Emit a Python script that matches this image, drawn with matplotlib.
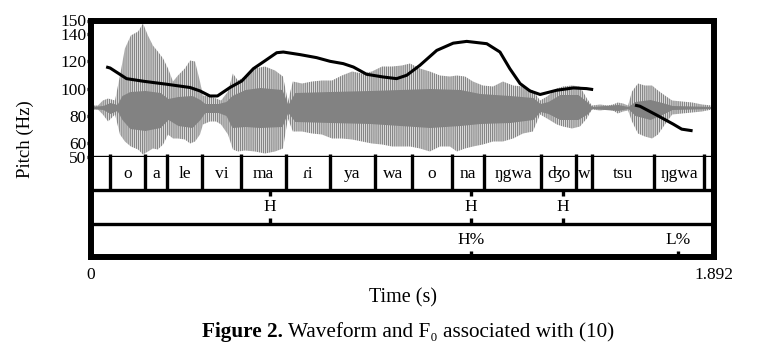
import matplotlib
matplotlib.use('Agg')
import matplotlib.pyplot as plt
from matplotlib.text import OffsetFrom

plt.rcParams['font.family'] = ['Liberation Serif', 'DejaVu Serif']
plt.rcParams['hatch.linewidth'] = 1.0

# waveform envelope: time (s), upper / lower peak amplitude (arbitrary units)
wave_t = [0.000, 0.021, 0.036, 0.052, 0.073, 0.088, 0.103, 0.121, 0.143, 0.158,
          0.173, 0.188, 0.203, 0.219, 0.234, 0.249, 0.264, 0.285, 0.301, 0.316,
          0.331, 0.340, 0.361, 0.380, 0.395, 0.416, 0.431, 0.446, 0.468, 0.498,
          0.528, 0.559, 0.583, 0.598, 0.613, 0.641, 0.671, 0.701, 0.732, 0.762,
          0.793, 0.823, 0.853, 0.884, 0.914, 0.944, 0.969, 0.999, 1.029, 1.060,
          1.090, 1.111, 1.136, 1.160, 1.190, 1.221, 1.251, 1.282, 1.312, 1.342,
          1.364, 1.385, 1.415, 1.433, 1.461, 1.485, 1.506, 1.521, 1.546, 1.570,
          1.585, 1.600, 1.616, 1.631, 1.643, 1.661, 1.682, 1.704, 1.722, 1.743,
          1.765, 1.795, 1.826, 1.856, 1.886]
wave_up = [2, 2, 7, 9, 7, 32, 59, 72, 76, 84,
           72, 62, 56, 49, 39, 26, 32, 39, 47, 46,
           26, 12, 11, 9, 7, 16, 34, 27, 31, 39,
           41, 37, 31, 6, 26, 24, 26, 27, 27, 32,
           36, 34, 36, 41, 41, 42, 44, 39, 36, 32,
           31, 32, 31, 26, 22, 21, 26, 22, 21, 17,
           7, 11, 19, 21, 22, 21, 9, 2, 3, 2,
           3, 5, 4, 2, 16, 24, 22, 22, 17, 12,
           7, 6, 5, 3, 2]
wave_down = [2, 2, 7, 14, 7, 27, 34, 39, 42, 47,
             44, 41, 42, 37, 27, 31, 31, 32, 36, 34,
             27, 17, 14, 14, 17, 27, 42, 44, 43, 44,
             46, 44, 41, 11, 24, 24, 26, 27, 31, 31,
             32, 34, 36, 37, 39, 39, 39, 41, 44, 39,
             39, 44, 41, 39, 37, 34, 34, 31, 26, 24,
             7, 11, 17, 19, 21, 19, 11, 2, 3, 2,
             3, 6, 4, 3, 14, 26, 29, 31, 27, 17,
             7, 6, 5, 4, 2]

# dense core of the waveform
core_t = [0.000, 0.036, 0.058, 0.079, 0.094, 0.118, 0.164, 0.210, 0.234, 0.264,
          0.307, 0.331, 0.346, 0.386, 0.410, 0.428, 0.468, 0.513, 0.580, 0.598,
          0.619, 0.726, 0.847, 0.938, 1.029, 1.121, 1.181, 1.272, 1.342, 1.364,
          1.388, 1.424, 1.479, 1.509, 1.521, 1.600, 1.631, 1.652, 1.698, 1.734,
          1.765, 1.886]
core_up = [1, 2, 5, 3, 12, 16, 17, 15, 9, 11,
           12, 8, 4, 4, 6, 12, 18, 20, 18, 3,
           15, 16, 17, 18, 19, 18, 14, 12, 10, 4,
           6, 13, 13, 5, 1, 3, 1, 6, 8, 5,
           2, 1]
core_down = [1, 2, 6, 3, 12, 21, 23, 20, 12, 18,
             20, 12, 5, 5, 8, 20, 19, 20, 19, 5,
             14, 15, 16, 18, 20, 18, 16, 15, 12, 4,
             6, 12, 12, 6, 1, 3, 1, 8, 12, 7,
             2, 1]

# F0 contour, two voiced stretches
f0_t1 = [0.046, 0.058, 0.108, 0.159, 0.230, 0.301, 0.331, 0.361, 0.384, 0.422,
         0.458, 0.493, 0.523, 0.564, 0.584, 0.635, 0.685, 0.726, 0.766, 0.797,
         0.837, 0.888, 0.928, 0.959, 0.999, 1.050, 1.100, 1.141, 1.202, 1.242,
         1.272, 1.303, 1.333, 1.364, 1.414, 1.465, 1.505, 1.525]
f0_hz1 = [116.0, 115.2, 107.4, 105.5, 103.3, 100.9, 98.4, 94.7, 94.7, 100.9,
          105.7, 114.7, 119.6, 126.4, 126.9, 125.0, 122.8, 120.1, 118.4, 115.9,
          110.6, 108.6, 107.4, 109.9, 117.2, 128.1, 133.4, 134.7, 133.0, 126.9,
          114.7, 103.8, 98.4, 95.8, 98.9, 100.6, 100.1, 99.4]
f0_t2 = [1.652, 1.667, 1.718, 1.768, 1.794, 1.827]
f0_hz2 = [88.0, 87.2, 80.7, 74.1, 70.4, 69.2]

duration = 1.892
pitch_ticks = [50, 60, 80, 100, 120, 140, 150]

# syllable tier
syl_bounds = [0.058, 0.163, 0.232, 0.336, 0.456, 0.591, 0.726, 0.861, 0.975,
              1.095, 1.195, 1.368, 1.473, 1.521, 1.711, 1.863]
syllables = ['', 'o', 'a', 'le', 'vi', 'ma', 'ɾi', 'ya', 'wa', 'o', 'na',
             'ŋgwa', 'ʤo', 'w', 'tsu', 'ŋgwa', '']

# tone tiers
tone_t = [0.544, 1.153, 1.433]
tone_labels = ['H', 'H', 'H']
bound_t = [1.153, 1.783]
bound_labels = ['H%', 'L%']

W, H = 765, 353
fig = plt.figure(figsize=(W / 100, H / 100), dpi=100)


def rect(x0, y0, x1, y1):
    # pixel box (from top-left) -> figure fraction
    return [x0 / W, 1 - y1 / H, (x1 - x0) / W, (y1 - y0) / H]


thick = 4.3
thin = 2.4
gray = '#828282'

# waveform layer
ax_w = fig.add_axes(rect(91, 20.5, 714, 157))
ax_w.fill_between(wave_t, [-v for v in wave_down], wave_up, facecolor='none',
                  edgecolor='#868686', hatch='||||||||', linewidth=0)
ax_w.fill_between(core_t, [-v for v in core_down], core_up, color=gray,
                  linewidth=0)
ax_w.set_xlim(0, duration)
ax_w.set_ylim(-49.5, 87)
ax_w.axis('off')

# pitch layer
ax_p = fig.add_axes(rect(91, 20.5, 714, 157))
ax_p.patch.set_visible(False)
ax_p.plot(f0_t1, f0_hz1, color='black', lw=2.2, solid_capstyle='butt')
ax_p.plot(f0_t2, f0_hz2, color='black', lw=2.2, solid_capstyle='butt')
ax_p.set_xlim(0, duration)
ax_p.set_ylim(50, 150)
ax_p.set_yticks(pitch_ticks)
ax_p.set_xticks([])
ax_p.tick_params(axis='y', length=3, width=2.4, pad=0.5, labelsize=12.5)
for side in ['top', 'left', 'right']:
    ax_p.spines[side].set_linewidth(thick)
ax_p.spines['bottom'].set_linewidth(thin)

# annotation tiers
ax_t = fig.add_axes(rect(91, 157, 714, 257))
ax_t.set_xlim(0, duration)
ax_t.set_ylim(0, 3)
ax_t.set_yticks([])
ax_t.set_xticks([0, duration])
ax_t.set_xticklabels(['0', '1.892'])
ax_t.tick_params(axis='x', length=0, pad=7, labelsize=12.5)
ax_t.spines['top'].set_visible(False)
for side in ['bottom', 'left', 'right']:
    ax_t.spines[side].set_linewidth(thick)
ax_t.axhline(1, color='black', lw=thin)
ax_t.axhline(2, color='black', lw=thin)

ax_t.vlines(syl_bounds, 2, 3.1, color='black', lw=thin, clip_on=False)
edges = [0] + syl_bounds + [duration]
for i, lab in enumerate(syllables):
    if lab:
        ax_t.text((edges[i] + edges[i + 1]) / 2, 2.5, lab, ha='center',
                  va='center', fontsize=12.5)

for t, lab in zip(tone_t, tone_labels):
    ax_t.vlines(t, 1.83, 2, color='black', lw=thin)
    ax_t.vlines(t, 1, 1.17, color='black', lw=thin)
    ax_t.text(t, 1.5, lab, ha='center', va='center', fontsize=12.5)

for t, lab in zip(bound_t, bound_labels):
    ax_t.vlines(t, 0, 0.17, color='black', lw=thin)
    ax_t.text(t, 0.52, lab, ha='center', va='center', fontsize=12.5)

fig.text(25 / W, 1 - 139 / H, 'Pitch (Hz)', rotation=90, ha='center',
         va='center', fontsize=13.5)
fig.text(403 / W, 1 - 298 / H, 'Time (s)', ha='center', va='center',
         fontsize=14.5)

cap = fig.text(202 / W, 1 - 332 / H, 'Figure 2.', ha='left', va='center',
               fontsize=15.3, fontweight='bold')
fig.text(0, 0, ' Waveform and F\u2080 associated with (10)', ha='left',
         va='bottom', fontsize=15.3,
         transform=OffsetFrom(cap, (1, 0))(fig.canvas.get_renderer()))

fig.savefig('out.png', dpi=100)
